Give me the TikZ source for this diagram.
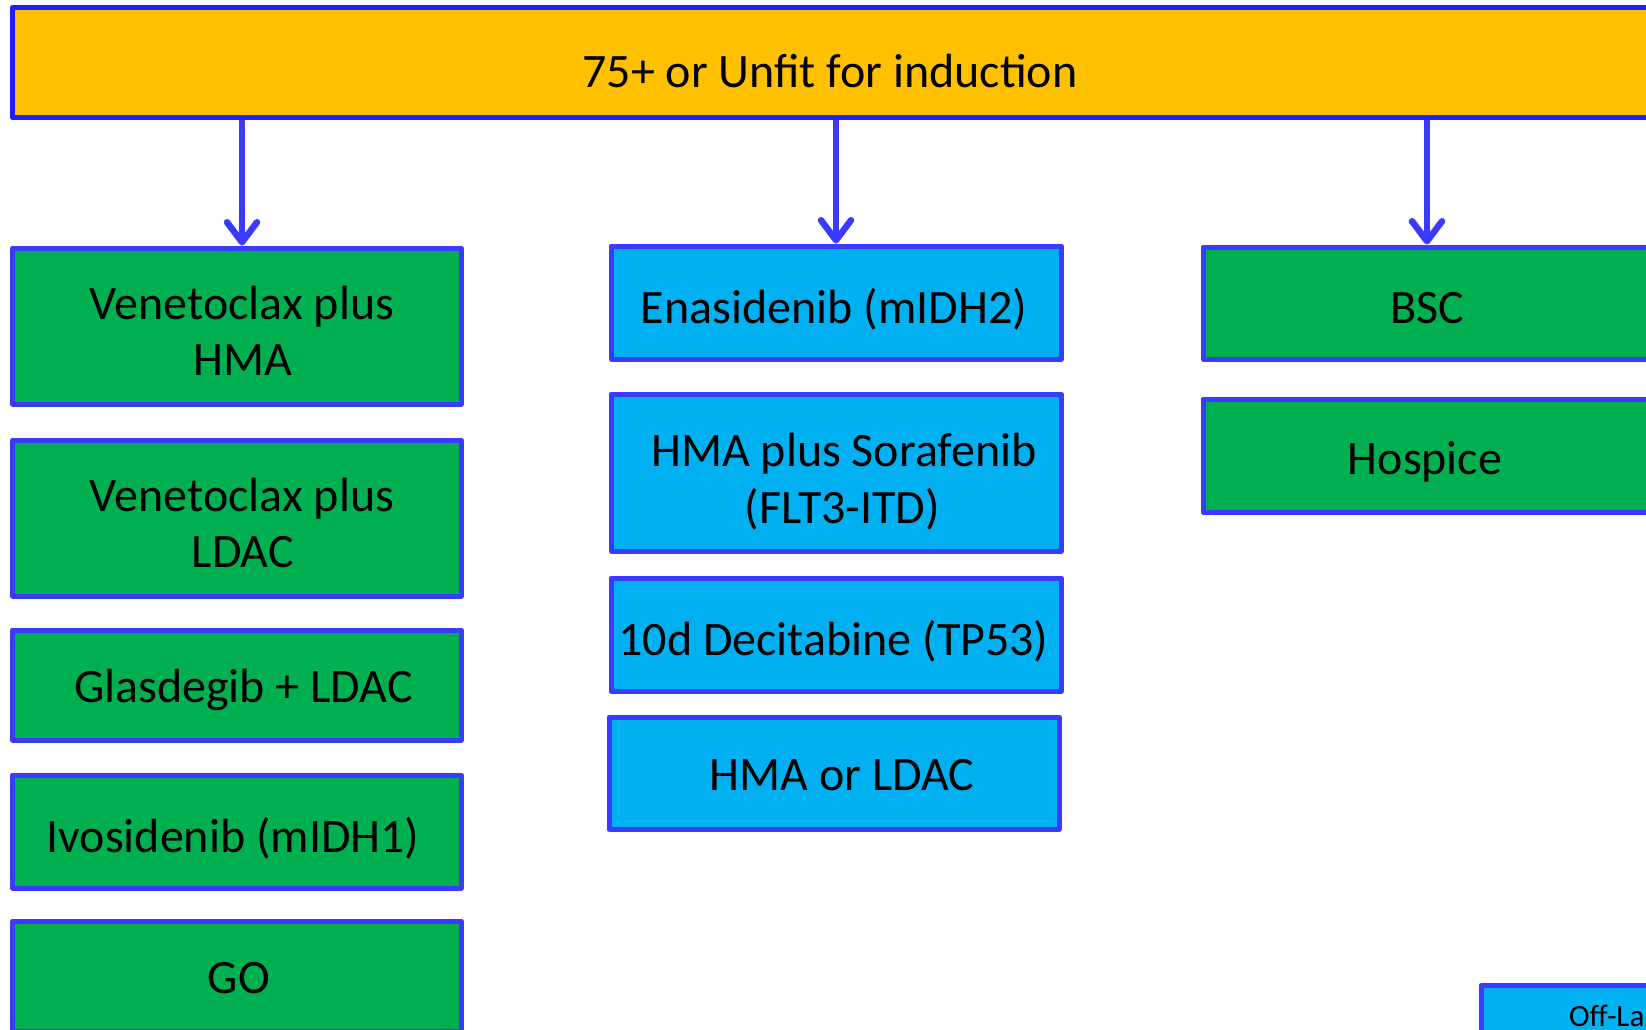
\documentclass[tikz,border=0pt]{standalone}
\usepackage{fontspec}
\setmainfont{Carlito}
\usetikzlibrary{arrows.meta}
\definecolor{topfill}{HTML}{FFC000}
\definecolor{topline}{HTML}{1E1EFF}
\definecolor{bordblue}{HTML}{3B3BFF}
\definecolor{boxgreen}{HTML}{00B050}
\definecolor{boxblue}{HTML}{00B0F0}
\begin{document}
\begin{tikzpicture}[x=1pt,y=-1pt,
  box/.style={draw=bordblue, line width=5pt, line join=round, inner sep=0pt, anchor=center},
  gbox/.style={box, fill=boxgreen, minimum width=448.5pt},
  bbox/.style={box, fill=boxblue, minimum width=450pt},
  txt/.style={inner sep=0pt, anchor=base, font=\fontsize{48}{58}\selectfont},
  arr/.style={draw=bordblue, line width=6.5pt, -{Straight Barb[length=20pt,width=30pt,round]}}
]
\useasboundingbox (0,0) rectangle (1646,1030);
\clip (0,0) rectangle (1646,1030);
\fill[white] (0,0) rectangle (1646,1030);

% top box
\node[box, draw=topline, fill=topfill, minimum width=1637.5pt, minimum height=110pt] (top) at (831.25,62.5) {};
\node[txt] (toptxt) at (830,87.5) {75+ or Unfit for induction};

% left column
\node[gbox, minimum height=156pt] (b1) at (236.75,326) {};
\node[gbox, minimum height=156pt] (b2) at (236.75,518) {};
\node[gbox, minimum height=110pt] (b3) at (236.75,685) {};
\node[gbox, minimum height=113pt] (b4) at (236.75,831.5) {};
\node[gbox, minimum height=110pt] (b5) at (236.75,976) {};
\node[txt] (b1a) at (242,319) {Venetoclax plus};
\node[txt] (b1b) at (243,375.5) {HMA};
\node[txt] (b2a) at (242,511) {Venetoclax plus};
\node[txt] (b2b) at (243,567.5) {LDAC};
\node[txt] (b3a) at (243.5,702) {Glasdegib + LDAC};
\node[txt] (b4a) at (233,852.5) {Ivosidenib (mIDH1)};
\node[txt] (b5a) at (239,993) {GO};

% middle column
\node[bbox, minimum height=113pt] (m1) at (836,302.5) {};
\node[bbox, minimum height=157pt] (m2) at (836,472.5) {};
\node[bbox, minimum height=113pt] (m3) at (836,634.5) {};
\node[bbox, minimum height=112pt] (m4) at (834,773) {};
\node[txt] (m1a) at (834,323) {Enasidenib (mIDH2)};
\node[txt] (m2a) at (844,466.5) {HMA plus Sorafenib};
\node[txt] (m2b) at (842.5,523) {(FLT3-ITD)};
\node[txt] (m3a) at (833.5,655) {10d Decitabine (TP53)};
\node[txt] (m4a) at (842,790) {HMA or LDAC};

% right column
\node[gbox, minimum width=448pt, minimum height=112pt] (r1) at (1427,303) {};
\node[gbox, minimum width=448pt, minimum height=113pt] (r2) at (1427,455.5) {};
\node[txt] (r1a) at (1427,323) {BSC};
\node[txt] (r2a) at (1425,474.5) {Hospice};

% off-label box (cut at the corner)
\node[bbox, minimum height=110pt] (ol) at (1706,1040.5) {};
\node[inner sep=0pt, anchor=base west, font=\fontsize{31}{37}\selectfont] (ola) at (1569,1026) {Off-La};

% arrows
\draw[arr] (top.south -| b1a.center) -- (b1.north -| b1a.center);
\draw[arr] (top.south -| m1.north) -- (m1.north);
\draw[arr] (top.south -| r1.north) -- (r1.north);
\end{tikzpicture}
\end{document}
